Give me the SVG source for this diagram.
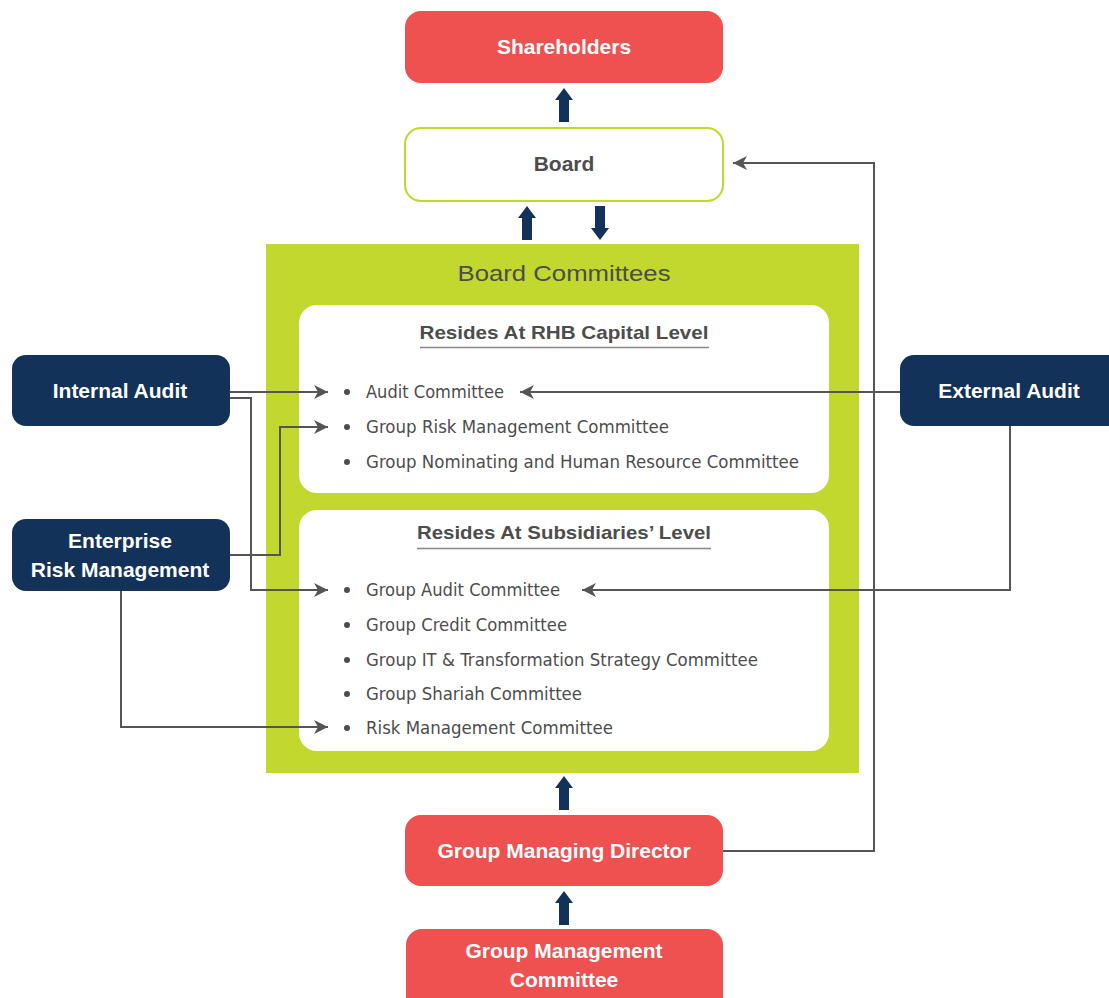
<svg xmlns="http://www.w3.org/2000/svg" width="1109" height="998" viewBox="0 0 1109 998">
<style>
.red{fill:#EF5050}
.navy{fill:#12325A}
.wl{fill:#fff;font-family:"Liberation Sans",Arial,sans-serif;font-weight:bold;font-size:21px;text-anchor:middle}
.gt{fill:#4D4D4D;font-family:"Liberation Sans",Arial,sans-serif}
.item{font-family:"DejaVu Sans","Liberation Sans",sans-serif;font-size:17px}
.hdr{font-size:19px;font-weight:bold;text-anchor:middle}
.con{fill:none;stroke:#555;stroke-width:2}
.blk{fill:#12325A}
</style>
<defs>
<marker id="ah" markerWidth="16" markerHeight="16" refX="14" refY="7" orient="auto" markerUnits="userSpaceOnUse">
<path d="M0,0 L14,7 L0,14 L4,7 z" fill="#555"/>
</marker>
<path id="up" d="M0,-17 L9,-5 L5,-5 L5,17 L-5,17 L-5,-5 L-9,-5 z"/>
</defs>
<rect width="1109" height="998" fill="#fff"/>

<g id="board-committees">
<rect x="266" y="244" width="593" height="529" fill="#C2D82E"/>
<text class="gt" x="564" y="281" font-size="22" text-anchor="middle" textLength="213" lengthAdjust="spacingAndGlyphs">Board Committees</text>
</g>

<g id="rhb-level">
<rect x="299" y="305" width="530" height="188" rx="18" fill="#fff"/>
<text class="gt hdr" x="564" y="339" textLength="289" lengthAdjust="spacingAndGlyphs">Resides At RHB Capital Level</text>
<line x1="420" y1="347.5" x2="709" y2="347.5" stroke="#888" stroke-width="1.5"/>
<g class="gt item">
<circle cx="347" cy="392" r="3" fill="#4D4D4D"/><text x="366" y="398" textLength="138" lengthAdjust="spacingAndGlyphs">Audit Committee</text>
<circle cx="347" cy="427" r="3" fill="#4D4D4D"/><text x="366" y="433" textLength="303" lengthAdjust="spacingAndGlyphs">Group Risk Management Committee</text>
<circle cx="347" cy="462" r="3" fill="#4D4D4D"/><text x="366" y="468" textLength="433" lengthAdjust="spacingAndGlyphs">Group Nominating and Human Resource Committee</text>
</g>
</g>

<g id="subsidiaries-level">
<rect x="299" y="510" width="530" height="241" rx="18" fill="#fff"/>
<text class="gt hdr" x="564" y="539" textLength="294" lengthAdjust="spacingAndGlyphs">Resides At Subsidiaries’ Level</text>
<line x1="417" y1="548.5" x2="711" y2="548.5" stroke="#888" stroke-width="1.5"/>
<g class="gt item">
<circle cx="347" cy="590" r="3" fill="#4D4D4D"/><text x="366" y="596" textLength="194" lengthAdjust="spacingAndGlyphs">Group Audit Committee</text>
<circle cx="347" cy="625" r="3" fill="#4D4D4D"/><text x="366" y="631" textLength="201" lengthAdjust="spacingAndGlyphs">Group Credit Committee</text>
<circle cx="347" cy="660" r="3" fill="#4D4D4D"/><text x="366" y="666" textLength="392" lengthAdjust="spacingAndGlyphs">Group IT &amp; Transformation Strategy Committee</text>
<circle cx="347" cy="694" r="3" fill="#4D4D4D"/><text x="366" y="700" textLength="216" lengthAdjust="spacingAndGlyphs">Group Shariah Committee</text>
<circle cx="347" cy="728" r="3" fill="#4D4D4D"/><text x="366" y="734" textLength="247" lengthAdjust="spacingAndGlyphs">Risk Management Committee</text>
</g>
</g>

<g id="shareholders">
<rect class="red" x="405" y="11" width="318" height="72" rx="16"/>
<text class="wl" x="564" y="54">Shareholders</text>
</g>

<g id="board">
<rect x="405" y="128" width="318" height="73" rx="16" fill="#fff" stroke="#C2D82E" stroke-width="2"/>
<text class="wl" x="564" y="171" style="fill:#4D4D4D">Board</text>
</g>

<g id="internal-audit">
<rect class="navy" x="12" y="355" width="218" height="71" rx="14"/>
<text class="wl" x="120" y="398">Internal Audit</text>
</g>

<g id="enterprise-risk-management">
<rect class="navy" x="12" y="519" width="218" height="72" rx="14"/>
<text class="wl" x="120" y="548">Enterprise</text>
<text class="wl" x="120" y="577">Risk Management</text>
</g>

<g id="external-audit">
<rect class="navy" x="900" y="355" width="225" height="71" rx="14"/>
<text class="wl" x="1009" y="398">External Audit</text>
</g>

<g id="group-managing-director">
<rect class="red" x="405" y="815" width="318" height="71" rx="16"/>
<text class="wl" x="564" y="858">Group Managing Director</text>
</g>

<g id="group-management-committee">
<rect class="red" x="406" y="929" width="317" height="90" rx="16"/>
<text class="wl" x="564" y="958">Group Management</text>
<text class="wl" x="564" y="987">Committee</text>
</g>

<g id="connectors">
<use href="#up" class="blk" x="564" y="105"/>
<use href="#up" class="blk" x="527" y="223"/>
<use href="#up" class="blk" transform="translate(600,223) rotate(180)"/>
<use href="#up" class="blk" x="564" y="793"/>
<use href="#up" class="blk" x="564" y="908"/>
<path class="con" d="M230,392 H328" marker-end="url(#ah)"/>
<path class="con" d="M230,398 H251 V590 H328" marker-end="url(#ah)"/>
<path class="con" d="M230,555 H280 V427 H328" marker-end="url(#ah)"/>
<path class="con" d="M121,591 V727 H328" marker-end="url(#ah)"/>
<path class="con" d="M900,392 H520" marker-end="url(#ah)"/>
<path class="con" d="M1010,426 V590 H582" marker-end="url(#ah)"/>
<path class="con" d="M723,851 H874 V163 H733" marker-end="url(#ah)"/>
</g>
</svg>
